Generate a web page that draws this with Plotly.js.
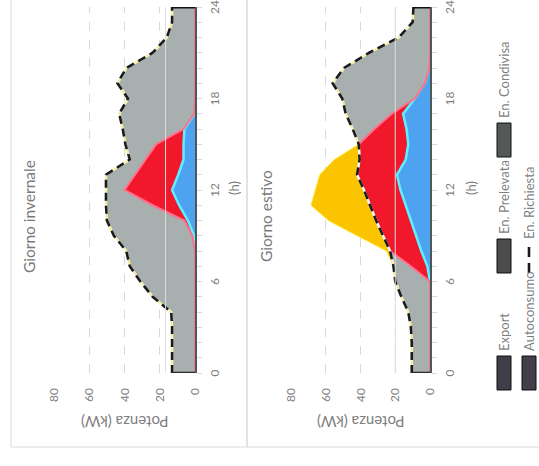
<!DOCTYPE html>
<html><head><meta charset="utf-8">
<script src="https://cdn.plot.ly/plotly-3.0.1.min.js"></script>
<style>
html,body{margin:0;padding:0;background:#fff;}
#wrap{position:relative;width:539px;height:466px;overflow:hidden;background:#fff;}
#chart{position:absolute;left:0;top:0;width:466px;height:539px;transform-origin:0 0;transform:translate(0,466px) rotate(-90deg);}
</style></head><body>
<div id="wrap"><div id="chart"></div></div>
<script>
// ---- data (hour of day, kW) ----
const hours = [0,1,2,3,4,5,6,7,8,9,10,11,12,13,14,15,16,17,18,19,20,21,22,23,24];
const hourTicks = [0,6,12,18,24];
const powerTicks = [0,20,40,60,80];

const winterAutoconsumo = [0,0,0,0,0,0,0,0,0,0.5,4,9,13,9.5,6.5,6.5,6,0.3,0,0,0,0,0,0,0];
const winterCondivisa   = [0,0,0,0,0,0,0,0,0,1,2,15,27,24.5,21.5,15.5,0.5,0.2,0,0,0,0,0,0,0];
const winterPrelevata   = [13,13,13,13,13.5,24,31,37,39,44.5,44,26.5,10.5,16.5,9,17.5,34.5,42.5,38,44,39,24,16,13,13];
const winterExport      = [0,0,0,0,0,0,0,0,0,0,0,0,0,0,0,0,0,0,0,0,0,0,0,0,0];
const winterRichiesta   = [13,13,13,13,13.5,24,31,37,39,46,50,50.5,50.5,50.5,37,39.5,41,43,38,44,39,24,16,13,13];
const winterGuide = 16.7;

const summerAutoconsumo = [0,0,0,0,0,0,0,1.5,5,8,11,14,17,19,14,12.5,13.5,15.5,8.7,3,0.3,0,0,0,0];
const summerCondivisa   = [0,0,0,0,0,0,0,9.5,18,19,20,20.5,21,23,26.5,28.5,18.5,6.5,0,0,0,0,0,0,0];
const summerPrelevata   = [10.5,10.5,10.5,11,12.5,16.5,20,10,0,0,0,0,0,0,0,0,12.5,26.5,41.8,53,49.2,35,18,10,9.5];
const summerExport      = [0,0,0,0,0,0,0,0,2,15,27.5,34,28,21.5,14.5,0,0,0,0,0,0,0,0,0,0];
const summerRichiesta   = [10.5,10.5,10.5,11,12.5,16.5,20,21,23,27,31,34.5,38,42,40.5,41,44.5,48.5,50.5,56,49.5,35,18,10,9.5];
const summerGuide = 20;

const seriesNames = ['Export','En. Prelevata','En. Condivisa','Autoconsumo','En. Richiesta'];
const titles = ['Giorno invernale','Giorno estivo'];

// ---- styling ----
const C = {
  blue:'#4da3ef', blueLine:'#5ff0ff',
  red:'#f2182b', redLine:'#ff6f8c',
  grey:'#a8afaf', greyLine:'#f4f6f6',
  yellow:'#fbc400', yellowLine:'#ffe83a',
  dash:'#1b1b1b', text:'#7f7f7f', grid:'#d9d9d9'
};
const W = 466, H = 539;
const px = u => u / W, py = v => 1 - v / H;

function panel(xa, ya, sg, auto, cond, prel, exp, rich){
  const base = {x: hours, xaxis: xa, yaxis: ya, stackgroup: sg, mode: 'lines', showlegend: false, hoverinfo: 'skip'};
  const t = [];
  t.push(Object.assign({}, base, {name: seriesNames[3], y: auto, fillcolor: C.blue, line: {color: C.blueLine, width: 2.5}}));
  t.push(Object.assign({}, base, {name: seriesNames[2], y: cond, fillcolor: C.red, line: {color: C.redLine, width: 2}}));
  t.push(Object.assign({}, base, {name: seriesNames[1], y: prel, fillcolor: C.grey, line: {color: C.greyLine, width: 2.5}}));
  t.push(Object.assign({}, base, {name: seriesNames[0], y: exp, fillcolor: C.yellow, line: {color: C.yellowLine, width: 1}}));
  t.push({name: seriesNames[4], x: hours, y: rich, xaxis: xa, yaxis: ya, mode: 'lines', showlegend: false, hoverinfo: 'skip',
          line: {color: C.dash, width: 2.6, dash: '8px,5px'}});
  const n = hours.length - 1;
  t.push({x: [hours[0], hours[0]], y: [0, rich[0]], xaxis: xa, yaxis: ya, mode: 'lines', showlegend: false,
          hoverinfo: 'skip', line: {color: '#2a2a2a', width: 2.5}});
  t.push({x: [hours[n], hours[n]], y: [0, rich[n]], xaxis: xa, yaxis: ya, mode: 'lines', showlegend: false,
          hoverinfo: 'skip', line: {color: '#111', width: 3}});
  return t;
}

const data = []
  .concat(panel('x','y','w', winterAutoconsumo, winterCondivisa, winterPrelevata, winterExport, winterRichiesta))
  .concat(panel('x2','y2','s', summerAutoconsumo, summerCondivisa, summerPrelevata, summerExport, summerRichiesta));

const xDomain = [px(93), px(459)];
function xAxis(anchor){
  return {domain: xDomain, anchor: anchor, range: [0,24], tickvals: hourTicks, ticks: 'outside', ticklen: 5,
    tickcolor: C.grid, showgrid: false, zeroline: false, showline: true, linecolor: '#4f5858', linewidth: 2,
    tickfont: {size: 12, color: C.text}, ticklabelstandoff: 3,
    minor: {dtick: 1, ticks: 'outside', ticklen: 5, tickcolor: C.grid, showgrid: false}};
}
function yAxis(anchor, domain){
  return {domain: domain, anchor: anchor, range: [0,80], tickvals: powerTicks, showgrid: true, gridcolor: C.grid,
    griddash: 'dash', gridwidth: 1, zeroline: false, showline: false, ticks: '',
    tickfont: {size: 12, color: C.text}, ticklabelstandoff: 14};
}

function label(text, u, v, size, extra){
  return Object.assign({text: text, xref: 'paper', yref: 'paper', x: px(u), y: py(v), xanchor: 'center',
    yanchor: 'middle', showarrow: false, font: {size: size, color: C.text}}, extra || {});
}

// ---- legend (drawn as layout items) ----
const legendItems = [
  {name: seriesNames[0], u: 76, v: 504, fill: '#3f3d47'},
  {name: seriesNames[1], u: 193, v: 504, fill: '#4a4b4b'},
  {name: seriesNames[2], u: 309, v: 504, fill: '#555858'},
  {name: seriesNames[3], u: 76, v: 529, fill: '#423f4a'}
];
const legendShapes = [], legendAnn = [];
legendItems.forEach(it => {
  legendShapes.push({type: 'rect', xref: 'paper', yref: 'paper', x0: px(it.u), x1: px(it.u + 34),
    y0: py(it.v + 7), y1: py(it.v - 7), fillcolor: it.fill, line: {color: '#111', width: 1}});
  legendAnn.push(label(it.name, it.u + 37, it.v, 13, {xanchor: 'left'}));
});
legendShapes.push({type: 'line', xref: 'paper', yref: 'paper', x0: px(193), x1: px(220), y0: py(529), y1: py(529),
  line: {color: C.dash, width: 2.6, dash: '10px,6px'}});
legendAnn.push(label(seriesNames[4], 225, 529, 13, {xanchor: 'left'}));

const layout = {
  width: W, height: H,
  margin: {l: 0, r: 0, t: 0, b: 0, autoexpand: false},
  paper_bgcolor: '#fff', plot_bgcolor: 'rgba(0,0,0,0)',
  font: {family: 'Lato, "Open Sans", sans-serif', color: C.text},
  xaxis: xAxis('y'),
  yaxis: yAxis('x', [py(195), py(54)]),
  xaxis2: xAxis('y2'),
  yaxis2: yAxis('x2', [py(430), py(291)]),
  showlegend: false,
  shapes: [
    {type: 'rect', xref: 'paper', yref: 'paper', x0: px(19), x1: 1.1, y0: py(247), y1: py(11), line: {color: C.grid, width: 1}},
    {type: 'rect', xref: 'paper', yref: 'paper', x0: px(19), x1: 1.1, y0: -0.1, y1: py(247), line: {color: C.grid, width: 1}},
    {type: 'line', xref: 'x', yref: 'y', x0: hours[0], x1: hours[hours.length-1], y0: winterGuide, y1: winterGuide,
     line: {color: '#dedede', width: 1}, layer: 'above'},
    {type: 'line', xref: 'x2', yref: 'y2', x0: hours[0], x1: hours[hours.length-1], y0: summerGuide, y1: summerGuide,
     line: {color: '#dedede', width: 1}, layer: 'above'}
  ].concat(legendShapes),
  annotations: [
    label(titles[0], 250, 29, 15.5, {font: {size: 15.5, color: '#7a7a7a'}}),
    label(titles[1], 250, 266, 15.5, {font: {size: 15.5, color: '#7a7a7a'}}),
    label('(h)', 278, 234, 13),
    label('(h)', 278, 471, 13),
    label('Potenza (kW)', 45, 124.5, 15, {textangle: -90}),
    label('Potenza (kW)', 45, 360.5, 15, {textangle: -90})
  ].concat(legendAnn)
};

Plotly.newPlot('chart', data, layout, {displayModeBar: false, staticPlot: true, responsive: false});
</script>
</body></html>
